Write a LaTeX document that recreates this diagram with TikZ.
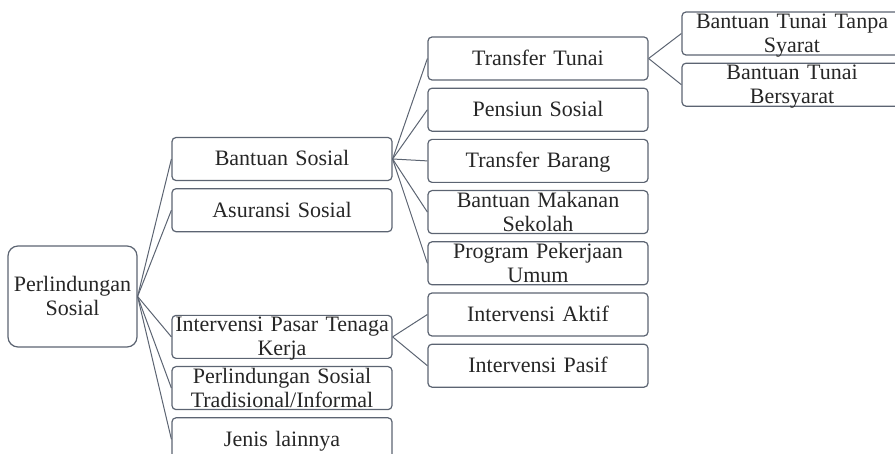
\documentclass[tikz,border=0pt]{standalone}
\usepackage{fontspec}
\setmainfont{Liberation Serif}
\usetikzlibrary{positioning}
\definecolor{linegray}{RGB}{92,100,114}

\begin{document}
\begin{tikzpicture}[node distance=3.5pt,
    box/.style={draw=linegray, line width=0.6pt, rounded corners=2pt, minimum width=110pt, minimum height=21.5pt, text width=108pt, inner sep=1pt, align=center, text=black!85, font=\fontsize{11pt}{12pt}\selectfont, text height=7.5pt, text depth=0.5pt},
    twoline/.style={text height=2pt, text depth=7pt},
    link/.style={draw=linegray, line width=0.5pt}]
            \useasboundingbox (0,0) rectangle (447.5pt,-227pt);
            \node[box, twoline, rounded corners=5pt, minimum width=64.5pt, minimum height=50.5pt, text width=62pt] (ps) at (36.25pt,-148.25pt) {Perlindungan\\Sosial};
            % first level
            \node[box] (bansos) at (141pt,-79.5pt) {Bantuan Sosial};
            \node[box, below=of bansos] (asuransi) {Asuransi Sosial};
            \node[box, twoline, below=41.25pt of asuransi] (pasar) {Intervensi Pasar Tenaga\\Kerja};
            \node[box, twoline, below=of pasar] (tradisional) {Perlindungan Sosial\\Tradisional/Informal};
            \node[box, below=of tradisional] (lainnya) {Jenis lainnya};
            % second level
            \node[box] (tunai) at (269pt,-29.25pt) {Transfer Tunai};
            \node[box, below=of tunai] (pensiun) {Pensiun Sosial};
            \node[box, below=of pensiun] (barang) {Transfer Barang};
            \node[box, twoline, below=of barang] (makanan) {Bantuan Makanan\\Sekolah};
            \node[box, twoline, below=of makanan] (pekerjaan) {Program Pekerjaan\\Umum};
            \node[box, below=of pekerjaan] (aktif) {Intervensi Aktif};
            \node[box, below=of aktif] (pasif) {Intervensi Pasif};
            % third level
            \node[box, twoline] (tanpa) at (396pt,-16.75pt) {Bantuan Tunai Tanpa\\Syarat};
            \node[box, twoline, below=of tanpa] (bersyarat) {Bantuan Tunai\\Bersyarat};
            \draw[link] (ps.east) -- (bansos.west);
            \draw[link] (ps.east) -- (asuransi.west);
            \draw[link] (ps.east) -- (pasar.west);
            \draw[link] (ps.east) -- (tradisional.west);
            \draw[link] (ps.east) -- (lainnya.west);
            \draw[link] (bansos.east) -- (tunai.west);
            \draw[link] (bansos.east) -- (pensiun.west);
            \draw[link] (bansos.east) -- (barang.west);
            \draw[link] (bansos.east) -- (makanan.west);
            \draw[link] (bansos.east) -- (pekerjaan.west);
            \draw[link] (pasar.east) -- (aktif.west);
            \draw[link] (pasar.east) -- (pasif.west);
            \draw[link] (tunai.east) -- (tanpa.west);
            \draw[link] (tunai.east) -- (bersyarat.west);
        \end{tikzpicture}
\end{document}
